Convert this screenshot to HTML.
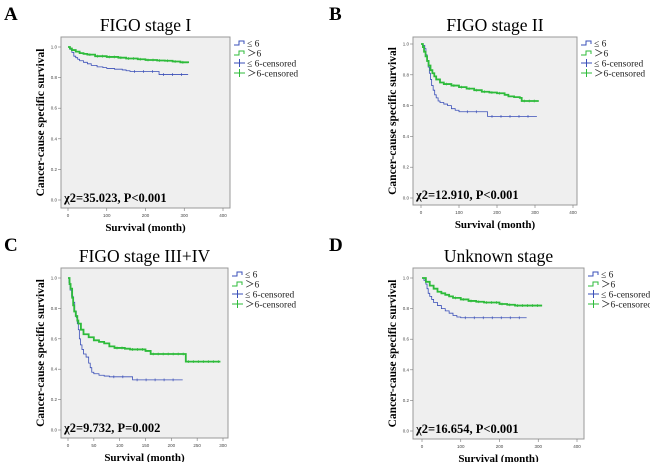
<!DOCTYPE html>
<html><head><meta charset="utf-8"><style>
body{margin:0;background:#fff;}
svg{display:block;font-family:"Liberation Serif",serif;}
</style></head><body>
<svg id="c" width="650" height="462"></svg>
<script>
const panelLetters=["A","B","C","D"];
const panelTitles=["FIGO stage I","FIGO stage II","FIGO stage III+IV","Unknown stage"];
const statTexts=["χ2=35.023, P<0.001","χ2=12.910, P<0.001","χ2=9.732, P=0.002","χ2=16.654, P<0.001"];
const xTickLabels=[["0","100","200","300","400"],["0","100","200","300","400"],["0","50","100","150","200","250","300"],["0","100","200","300","400"]];
const yTickLabels=["0.0","0.2","0.4","0.6","0.8","1.0"];
const lowTimes=[
[0,5,10,15,20,25,30,40,50,60,75,90,100,120,140,150,160,230,235,310],
[0,5,10,13,16,19,22,25,28,32,36,40,45,50,60,70,80,90,100,110,170,175,305],
[0,2,4,7,10,13,16,18,20,22,24,27,30,35,40,43,46,50,60,70,80,120,125,222],
[0,5,10,13,16,20,25,30,40,50,60,70,80,90,100,270]];
const lowSurv=[
[1,0.985,0.965,0.94,0.93,0.92,0.91,0.9,0.89,0.88,0.87,0.865,0.86,0.855,0.85,0.845,0.84,0.84,0.82,0.82],
[1,0.99,0.97,0.93,0.89,0.85,0.81,0.77,0.73,0.7,0.67,0.65,0.63,0.62,0.61,0.6,0.58,0.57,0.56,0.56,0.56,0.53,0.53],
[1,0.97,0.92,0.88,0.84,0.78,0.74,0.7,0.66,0.6,0.56,0.53,0.5,0.48,0.44,0.41,0.38,0.37,0.36,0.355,0.35,0.35,0.33,0.33],
[1,0.985,0.96,0.93,0.9,0.88,0.86,0.84,0.82,0.8,0.785,0.77,0.755,0.745,0.74,0.74]];
const highTimes=[
[0,5,10,20,30,40,50,70,100,130,150,180,200,230,250,270,290,310],
[0,5,8,12,16,20,25,30,35,40,50,60,80,100,120,140,160,180,200,220,230,245,260,265,310],
[0,3,5,8,10,12,15,18,20,25,30,40,50,60,70,80,90,110,120,150,160,225,228,295],
[0,10,20,30,40,50,60,70,80,100,120,140,160,200,220,240,310]];
const highSurv=[
[1,0.99,0.98,0.97,0.96,0.955,0.95,0.94,0.935,0.93,0.925,0.92,0.915,0.912,0.91,0.905,0.9,0.895],
[1,0.98,0.95,0.92,0.89,0.86,0.83,0.81,0.79,0.77,0.75,0.74,0.73,0.72,0.71,0.7,0.69,0.685,0.68,0.67,0.66,0.655,0.65,0.63,0.63],
[1,0.96,0.93,0.87,0.82,0.78,0.75,0.72,0.7,0.66,0.63,0.61,0.59,0.58,0.57,0.55,0.54,0.535,0.53,0.52,0.5,0.5,0.45,0.45],
[1,0.975,0.95,0.93,0.91,0.9,0.89,0.88,0.87,0.86,0.85,0.845,0.84,0.83,0.825,0.82,0.82]];
const L=[
{ox:0,oy:0,bx0:61,bx1:230,by0:37,by1:208,x0:68,x1:223,xmax:400,y1:47,y0:200},
{ox:325,oy:0,bx0:88,bx1:252,by0:37,by1:205,x0:96,x1:248,xmax:400,y1:44,y0:198},
{ox:0,oy:231,bx0:61,bx1:228,by0:37,by1:207,x0:68,x1:223,xmax:300,y1:47,y0:199},
{ox:325,oy:231,bx0:88,bx1:259,by0:37,by1:208,x0:97,x1:252,xmax:400,y1:47,y0:200}];
const NS="http://www.w3.org/2000/svg";
const svg=document.getElementById('c');
function mk(t,a,p){const e=document.createElementNS(NS,t);for(const k in a)e.setAttribute(k,a[k]);(p||svg).appendChild(e);return e;}
const BLUE="#3a4fb8",GREEN="#2dbb3a";
for(let i=0;i<4;i++){
 const c=L[i];
 const g=mk('g',{transform:`translate(${c.ox},${c.oy})`});
 
 
 const xs=v=>c.x0+(c.x1-c.x0)*v/c.xmax;
 const ys=v=>c.y0-(c.y0-c.y1)*v;
 let t=mk('text',{x:4,y:20,'font-size':19,'font-weight':'bold'},g);t.textContent=panelLetters[i];
 
 let r=mk('rect',{x:c.bx0,y:c.by0,width:c.bx1-c.bx0,height:c.by1-c.by0,fill:'#efefef',stroke:'#999','stroke-width':1},g);
 
 t=mk('text',{x:(c.bx0+c.bx1)/2,y:c.by0-6,'font-size':17.5,'text-anchor':'middle'},g);t.textContent=panelTitles[i];
 
 yTickLabels.forEach((lb,k)=>{const y=ys(k*0.2);
  mk('line',{x1:c.bx0-3,x2:c.bx0,y1:y,y2:y,stroke:'#777','stroke-width':0.6},g);
  const tt=mk('text',{x:c.bx0-4,y:y+1.5,'font-size':4.5,'text-anchor':'end',fill:'#444','font-family':'Liberation Sans'},g);tt.textContent=lb;
  });
 const xl=xTickLabels[i];
 xl.forEach(lb=>{const x=xs(+lb);
  mk('line',{x1:x,x2:x,y1:c.by1,y2:c.by1+3,stroke:'#777','stroke-width':0.6},g);
  const tt=mk('text',{x:x,y:c.by1+9,'font-size':4.5,'text-anchor':'middle',fill:'#444','font-family':'Liberation Sans'},g);tt.textContent=lb;
  });
 t=mk('text',{x:(c.bx0+c.bx1)/2,y:c.by1+23,'font-size':11,'font-weight':'bold','text-anchor':'middle'},g);t.textContent="Survival (month)";
 
 const yc=(c.by0+c.by1)/2;
 t=mk('text',{x:c.bx0-17,y:yc,'font-size':11.5,'font-weight':'bold','text-anchor':'middle',transform:`rotate(-90 ${c.bx0-17} ${yc})`},g);t.textContent="Cancer-cause specific survival";
 
 t=mk('text',{x:c.bx0+3,y:c.by1-6,'font-size':12.5,'font-weight':'bold'},g);t.textContent=statTexts[i];
 
 [[lowTimes[i],lowSurv[i],BLUE,0.8,'curve-le6',9],[highTimes[i],highSurv[i],GREEN,1.8,'curve-gt6',5]].forEach(([T,S,col,w,nm,gap])=>{
  let d=`M${xs(T[0])},${ys(S[0])}`;
  for(let k=1;k<T.length;k++){d+=`H${xs(T[k])}V${ys(S[k])}`;}
  const p=mk('path',{d:d,fill:'none',stroke:col,'stroke-width':w},g);
  
  for(let k=1;k<T.length;k++){const xa=xs(T[k-1]),xb=xs(T[k]),y=ys(S[k-1]);
   if(xb-xa<gap*1.2)continue;
   for(let x=xa+gap/2;x<xb-1;x+=gap){const m=mk('line',{x1:x,x2:x,y1:y-1.4,y2:y+1.4,stroke:col,'stroke-width':0.7},g);
    }}
 });
 const lx=c.bx1+4, ly=c.by0+6;
 const leg=[["≤ 6",BLUE,'step'],["＞6",GREEN,'step'],["≤ 6-censored",BLUE,'plus'],["＞6-censored",GREEN,'plus']];
 leg.forEach((e,k)=>{const y=ly+k*10;
  const lg=mk('g',{},g);
  if(e[2]==='step')mk('path',{d:`M${lx},${y+2}H${lx+5}V${y-2}H${lx+10}V${y+1}`,fill:'none',stroke:e[1],'stroke-width':1},lg);
  else{mk('line',{x1:lx,x2:lx+11,y1:y,y2:y,stroke:e[1],'stroke-width':1},lg);mk('line',{x1:lx+5.5,x2:lx+5.5,y1:y-4,y2:y+4,stroke:e[1],'stroke-width':1},lg);}
  const tt=mk('text',{x:lx+13,y:y+3.5,'font-size':9.5,fill:'#222','font-family':'Liberation Serif, Noto Sans CJK SC, serif'},lg);tt.textContent=e[0];
 });
}
</script>
</body></html>
